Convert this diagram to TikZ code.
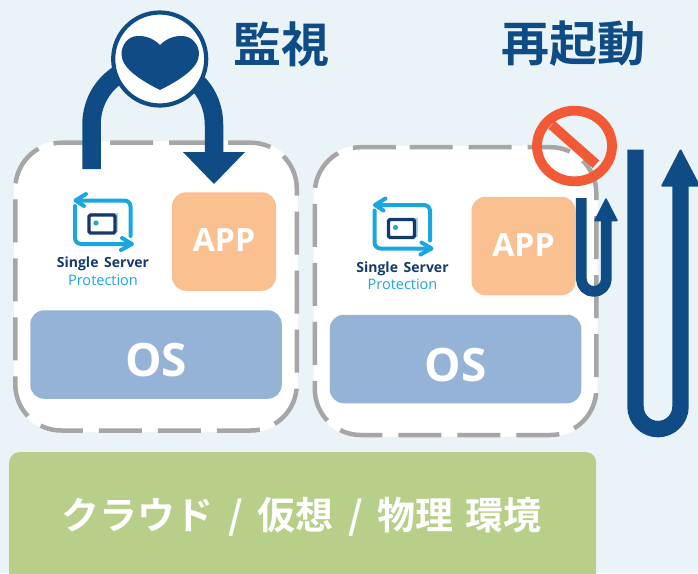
\documentclass[tikz,border=0pt]{standalone}
\usepackage{fontspec}
\setmainfont{Open Sans}
\newfontfamily\cjkb[BoldFont={Noto Sans CJK JP Bold}]{Noto Sans CJK JP}
\definecolor{bgc}{HTML}{EAF4F8}
\definecolor{navy}{HTML}{0F4C85}
\definecolor{dashgrey}{HTML}{A6A6A6}
\definecolor{appc}{HTML}{FAC090}
\definecolor{osc}{HTML}{95B3D7}
\definecolor{envc}{HTML}{B7CF88}
\definecolor{noc}{HTML}{F15A35}
\definecolor{logoc}{HTML}{1AA7E0}
\definecolor{logod}{HTML}{14396B}
\tikzset{
  x=1pt,y=-1pt,
  hostedge/.style={draw=dashgrey,line width=4.5pt,dash pattern=on 43pt off 16pt},
  appbox/.style={fill=appc,rounded corners=14pt,minimum width=104pt,minimum height=98.5pt,inner sep=0pt},
  osbox/.style={fill=osc,rounded corners=14pt,minimum width=251.5pt,minimum height=88.5pt,inner sep=0pt},
  applabel/.style={inner sep=0pt,text=white,font=\fontsize{32}{32}\selectfont\bfseries},
  oslabel/.style={inner sep=0pt,text=white,font=\fontsize{46}{46}\selectfont\bfseries},
  boxlabel/.style={inner sep=0pt},
  title/.style={inner sep=0pt,text=navy,font=\cjkb\fontsize{48}{48}\selectfont\bfseries},
  navyline/.style={draw=navy,line join=round},
  logoline/.style={draw=logoc,line width=4pt,line join=round,line cap=round},
}
\newcommand{\hostbox}[1]{%
  \begin{scope}[shift={#1}]
    \path[fill=white,rounded corners=46pt] (14,141) rectangle (298,432);
    \draw[hostedge,rounded corners=46pt] (110,142.7) -- (296.8,142.7) -- (296.8,430.5) -- (15.3,430.5) -- (15.3,142.7) -- (110,142.7);
    % logo
    \fill[logoc!45] (91,213) rectangle (118,232);
    \draw[logod,line width=3.4pt,rounded corners=1.5pt,fill=white] (89,215) rectangle (115,233);
    \fill[logoc] (96,223) circle (2.6);
    \draw[logoline,rounded corners=6pt] (76,200.5) -- (130.5,200.5) -- (130.5,236);
    \draw[logoline,rounded corners=6pt] (75,206) -- (75,244) -- (131,244);
    \draw[logoline] (86,194) -- (75.5,200.5) -- (84,206);
    \draw[logoline] (122,238) -- (132,244) -- (121,250);
    \node[boxlabel,text=logod,font=\fontsize{14}{14}\selectfont\bfseries] at (103,264) {Single\hspace{2pt} Server};
    \node[boxlabel,text=logoc,font=\fontsize{14.5}{14.5}\selectfont] at (103,280) {Protection};
  \end{scope}}
\begin{document}
\begin{tikzpicture}
\useasboundingbox (0,0) rectangle (698,573);
\clip (0,0) rectangle (698,573);
\fill[bgc] (0,0) rectangle (698,573);

\hostbox{(0,0)}
\hostbox{(299.5,4.5)}

\node[appbox] (app1) at (224,241.5) {};
\node[applabel] (app1t) at (224,240.5) {APP};
\node[appbox] (app2) at (523.5,246) {};
\node[applabel] (app2t) at (523.5,245) {APP};
\node[osbox] (os1) at (156,354.5) {};
\node[oslabel] (os1t) at (156,360.5) {OS};
\node[osbox] (os2) at (455.5,359) {};
\node[oslabel] (os2t) at (455.5,365) {OS};

\node[fill=envc,rounded corners=10pt,minimum width=587pt,minimum height=135pt,inner sep=0pt,anchor=north west] (env) at (9,452) {};
\node[boxlabel,text=white,font=\cjkb\fontsize{38}{38}\selectfont\bfseries] (envtext) at (301.5,517) {クラウド\hspace{6pt} / \hspace{6pt}仮想\hspace{6pt} / \hspace{6pt}物理\hspace{3pt} 環境};

\node[title] (t1) at (281,44) {監視};
\node[title] (t2) at (573,44) {再起動};

% monitoring arc and arrow
\coordinate (m1) at (91.5,169);
\coordinate (m2) at (214,153);
\coordinate (mtip) at (214,184);
\draw[draw=navy,line width=18.5pt] (m1) -- (91.5,125) .. controls (91.5,88) and (122,64) .. (152.75,64) .. controls (184,64) and (214,88) .. (214,125) -- (m2);
\fill[navy] (183,152) -- (245,152) -- (mtip) -- cycle;

% heart badge
\node[circle,draw=navy,line width=4.2pt,fill=white,minimum size=93pt,inner sep=0pt] (badge) at (159.7,59) {};
\fill[navy] (160,45) .. controls (152,37) and (144,36) .. (138,36) .. controls (128,36) and (121.5,45) .. (121.5,54)
  .. controls (121.5,68) and (140,80) .. (160,90) .. controls (180,80) and (199,68) .. (199,54)
  .. controls (199,45) and (192,36) .. (182,36) .. controls (176,36) and (168,37) .. (160,45) -- cycle;

% prohibited sign
\draw[noc,line width=9.8pt] (574.5,146) ellipse [x radius=37.5pt,y radius=35.3pt];
\draw[noc,line width=10pt] (551.7,125) -- (596,164.2);

% small restart arrow
\coordinate (s1) at (581.3,198);
\coordinate (s2) at (606.3,216);
\coordinate (stip) at (606,199);
\draw[navyline,line width=10.7pt] (s1) -- (581.3,279) arc[start angle=180,end angle=360,radius=12.5pt] -- (s2);
\fill[navy,draw=navy,line width=1.5pt,line join=round] (595,220.5) -- (stip) -- (617,220.5) -- cycle;

% large restart arrow
\coordinate (b1) at (635.5,149.5);
\coordinate (b2) at (680.5,180);
\coordinate (btip) at (680.5,150.5);
\draw[navyline,line width=16.4pt] (b1) -- (635.5,406.6) arc[start angle=180,end angle=360,radius=22.5pt] -- (b2);
\fill[navy,draw=navy,line width=2pt,line join=round] (662.3,185.7) -- (btip) -- (699,185.7) -- cycle;
\end{tikzpicture}
\end{document}
